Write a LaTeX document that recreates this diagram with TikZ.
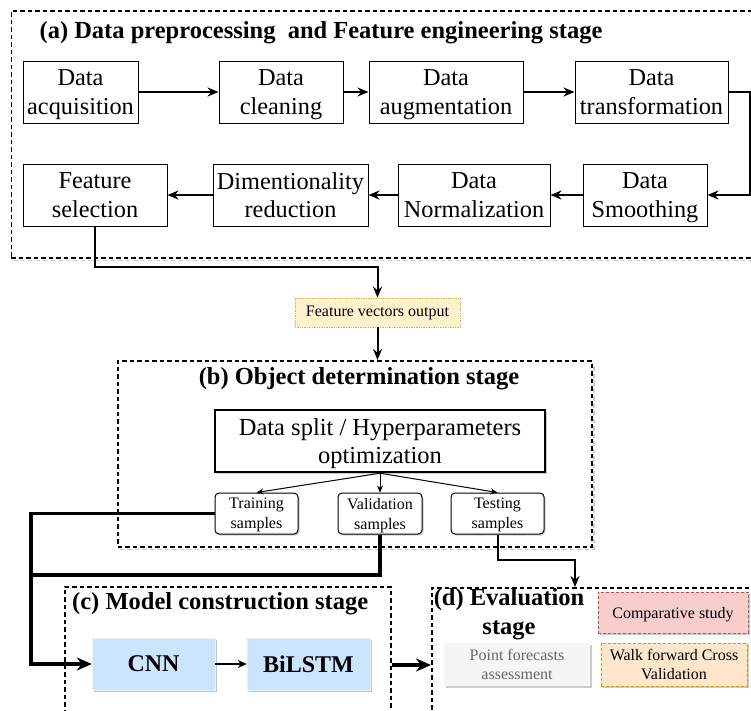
\documentclass[tikz,border=0pt]{standalone}
\usepackage{fontspec}
\setmainfont{Liberation Serif}
\usetikzlibrary{arrows.meta,shadows}
\definecolor{fvfill}{HTML}{FFF2CC}
\definecolor{fvline}{HTML}{D6B656}
\definecolor{bluefill}{HTML}{CCE5FF}
\definecolor{redfill}{HTML}{F8CECC}
\definecolor{redline}{HTML}{B85450}
\definecolor{grayfill}{HTML}{F5F5F5}
\definecolor{graytext}{HTML}{666666}
\definecolor{orfill}{HTML}{FFE6CC}
\definecolor{orline}{HTML}{D79B00}
\begin{document}
\begin{tikzpicture}[x=1pt,y=-1pt,
  procbox/.style={draw, line width=1pt, minimum height=62pt, inner sep=0pt, align=center, text depth=-10pt, font=\fontsize{24.3}{28.4}\selectfont},
  groupbox/.style={draw, line width=1.8pt, dash pattern=on 4.5pt off 3pt, anchor=north west, inner sep=0pt},
  groupshadow/.style={draw=gray!40, line width=1.8pt, dash pattern=on 4.5pt off 3pt, anchor=north west, inner sep=0pt, xshift=2pt, yshift=-2.5pt},
  titletext/.style={font=\fontsize{24.5}{29}\selectfont\bfseries, align=center, inner sep=0pt},
  smallbox/.style={draw, line width=1pt, rounded corners=4pt, minimum height=41pt, inner sep=0pt, align=center, text depth=-9pt, font=\fontsize{16}{20}\selectfont, fill=white, drop shadow={shadow xshift=1.5pt, shadow yshift=-1.5pt, fill=gray!40, opacity=1}},
  colbox/.style={inner sep=0pt, align=center, text depth=-2pt, font=\fontsize{16}{19}\selectfont, drop shadow={shadow xshift=2pt, shadow yshift=-2pt, fill=gray!40, opacity=1}},
  nnbox/.style={fill=bluefill, draw=bluefill!80!black!20, inner sep=0pt, minimum width=123pt, minimum height=52pt, font=\fontsize{24}{28}\selectfont\bfseries, drop shadow={shadow xshift=2pt, shadow yshift=-2pt, fill=gray!45, opacity=1}},
  flow/.style={line width=2pt, -{Stealth[length=11pt,width=9pt]}},
  thin flow/.style={line width=1pt, -{Stealth[length=7pt,width=6pt]}},
  heavy/.style={line width=3.4pt},
  heavy flow/.style={line width=3.4pt, -{Stealth[length=15pt,width=13pt]}}
]
\useasboundingbox (0,0) rectangle (751,710);
\clip (0,0) rectangle (751,710);
\fill[white] (0,0) rectangle (751,710);

% ---------- group boxes ----------
\node[groupshadow, minimum width=749.5pt, minimum height=247pt] (sha) at (10.5,10) {};
\node[groupbox, fill=white, minimum width=749.5pt, minimum height=247pt] (boxa) at (10.5,10) {};
\node[groupshadow, minimum width=474pt, minimum height=186pt] (shb) at (117,360) {};
\node[groupbox, fill=white, minimum width=474pt, minimum height=186pt] (boxb) at (117,360) {};
\node[groupbox, minimum width=326pt, minimum height=140pt] (boxc) at (64,586) {};
\node[groupbox, minimum width=340pt, minimum height=140pt] (boxd) at (431,587) {};

% ---------- (a) ----------
\node[titletext] (ta) at (321,33) {(a) Data preprocessing\ \ and Feature engineering stage};
\node[procbox, minimum width=115pt] (acq) at (80.5,92) {Data\\acquisition};
\node[procbox, minimum width=124pt] (clean) at (281,92) {Data\\cleaning};
\node[procbox, minimum width=154pt] (aug) at (446,92) {Data\\augmentation};
\node[procbox, minimum width=153pt] (trans) at (651.5,92) {Data\\transformation};
\node[procbox, minimum width=144pt] (feat) at (95,195) {Feature\\selection};
\node[procbox, minimum width=155pt] (dim) at (290.5,195) {Dimentionality\\reduction};
\node[procbox, minimum width=152pt] (norm) at (474,195) {Data\\Normalization};
\node[procbox, minimum width=124pt] (smooth) at (645,195) {Data\\Smoothing};

\coordinate (rx) at (749.5,0);
\draw[flow] (acq) -- (clean);
\draw[flow] (clean) -- (aug);
\draw[flow] (aug) -- (trans);
\draw[flow] (trans.east) -- (trans.east -| rx) |- (smooth.east);
\draw[flow] (smooth) -- (norm);
\draw[flow] (norm) -- (dim);
\draw[flow] (dim) -- (feat);

% ---------- feature vectors ----------
\node[fill=fvfill, draw=fvline, densely dotted, line width=0.7pt, minimum width=165pt, minimum height=29pt, inner sep=0pt, font=\fontsize{16}{19}\selectfont] (fv) at (377.5,312.5) {Feature vectors output};
\coordinate (fb) at (0,267);
\draw[flow] (feat.south) |- (fv.north |- fb) -- (fv.north);
\draw[flow] (fv.south) -- (fv.south |- boxb.north);

% ---------- (b) ----------
\node[titletext] (tb) at (359,379) {(b) Object determination stage};
\node[draw, line width=2.4pt, fill=white, minimum width=330pt, minimum height=62pt, inner sep=0pt, align=center, text depth=-9pt, font=\fontsize{24.5}{28.5}\selectfont, drop shadow={shadow xshift=2pt, shadow yshift=-2pt, fill=gray!40, opacity=1}] (split) at (380,441) {Data split / Hyperparameters\\optimization};
\node[smallbox, minimum width=83pt] (train) at (256.5,513.5) {Training\\samples};
\node[smallbox, minimum width=84pt] (val) at (380,513.5) {Validation\\samples};
\node[smallbox, minimum width=93pt] (test) at (497.5,513.5) {Testing\\samples};
\draw[thin flow] (split.south) -- (train.north);
\draw[thin flow] (split.south) -- (val.north);
\draw[thin flow] (split.south) -- (test.north);

% ---------- (c) ----------
\node[titletext, anchor=west] (tc) at (72,604) {(c) Model construction stage};
\node[nnbox] (cnn) at (153.5,664) {CNN};
\node[nnbox] (bilstm) at (308.5,664) {BiLSTM};
\draw[line width=2pt, -{Stealth[length=9pt,width=8pt]}] (cnn) -- (bilstm);

\coordinate (lx) at (31,0);
\coordinate (vj) at (31,575);
\draw[heavy flow] (train.west) -- (train.west -| lx) |- (cnn.west);
\draw[heavy] (val.south) |- (vj);

% ---------- (d) ----------
\node[titletext] (td) at (509,614) {(d) Evaluation\\stage};
\node[colbox, fill=redfill, draw=redline, densely dashed, line width=0.7pt, minimum width=150pt, minimum height=41pt] (comp) at (673,612.5) {Comparative study};
\node[colbox, fill=grayfill, text=graytext, minimum width=146pt, minimum height=43pt] (point) at (517,664.5) {Point forecasts\\assessment};
\node[colbox, fill=orfill, draw=orline, densely dashed, line width=0.7pt, minimum width=146pt, minimum height=43pt] (walk) at (674,664.5) {Walk forward Cross\\Validation};

\coordinate (tbend) at (575,560);
\draw[line width=2pt, -{Stealth[length=11pt,width=9pt]}] (test.south) |- (tbend) -- (tbend |- boxd.north);
\draw[heavy flow] (boxc.east |- 0,665) -- (boxd.west |- 0,665);
\end{tikzpicture}
\end{document}
